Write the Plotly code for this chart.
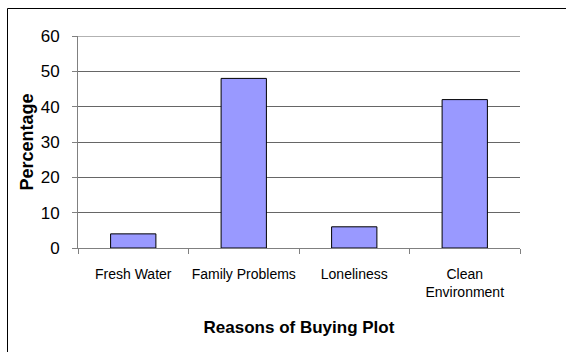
import plotly.graph_objects as go

# Survey results: reasons given for buying a plot
reasons = ["Fresh Water", "Family Problems", "Loneliness", "Clean<br>Environment"]
percentages = [4, 48, 6, 42]
y_ticks = [0, 10, 20, 30, 40, 50, 60]

W, H = 566, 352
L, R, T, B = 78, 46, 36, 104
plot_w = W - L - R
plot_h = H - T - B

fig = go.Figure(
    go.Bar(
        x=reasons,
        y=percentages,
        marker=dict(color="#9999FF", line=dict(color="#000000", width=1)),
        width=0.41,
    )
)

# outer chart frame (px -> paper coordinates)
def px_x(p):
    return (p - L) / plot_w

def px_y(p):
    return (H - B - p) / plot_h

fig.add_shape(
    type="rect", xref="paper", yref="paper",
    x0=px_x(7.5), x1=px_x(W + 5), y0=px_y(8.5), y1=px_y(H + 5),
    line=dict(color="#000000", width=1), fillcolor="rgba(0,0,0,0)", layer="above",
)

# gridline at the top of the value range
fig.add_shape(
    type="line", xref="paper", yref="y",
    x0=0, x1=1, y0=y_ticks[-1], y1=y_ticks[-1],
    line=dict(color="#666666", width=1), layer="below",
)

font = "Liberation Sans, Arial, sans-serif"
fig.update_layout(
    width=W, height=H,
    margin=dict(l=L, r=R, t=T, b=B, pad=0, autoexpand=False),
    paper_bgcolor="white", plot_bgcolor="white",
    showlegend=False,
    font=dict(family=font, color="#000000"),
    xaxis=dict(
        type="category",
        automargin=False,
        tickson="boundaries",
        tickangle=0,
        ticks="outside", ticklen=5, tickcolor="#808080", tickwidth=1,
        showline=True, linecolor="#808080", linewidth=1,
        showgrid=False,
        tickfont=dict(size=14, family=font),
        ticklabelstandoff=13,
        title=dict(text="<b>Reasons of Buying Plot</b>", font=dict(size=17, family=font), standoff=22),
    ),
    yaxis=dict(
        range=[0, 60],
        automargin=False,
        tickvals=y_ticks,
        ticks="outside", ticklen=5, tickcolor="#808080", tickwidth=1,
        showline=True, linecolor="#808080", linewidth=1,
        showgrid=True, gridcolor="#666666", gridwidth=1,
        zeroline=False,
        tickfont=dict(size=17, family=font),
        ticklabelstandoff=9,
        title=dict(text="<b>Percentage</b>", font=dict(size=18, family=font), standoff=2),
    ),
)

fig.write_html("out.html")
